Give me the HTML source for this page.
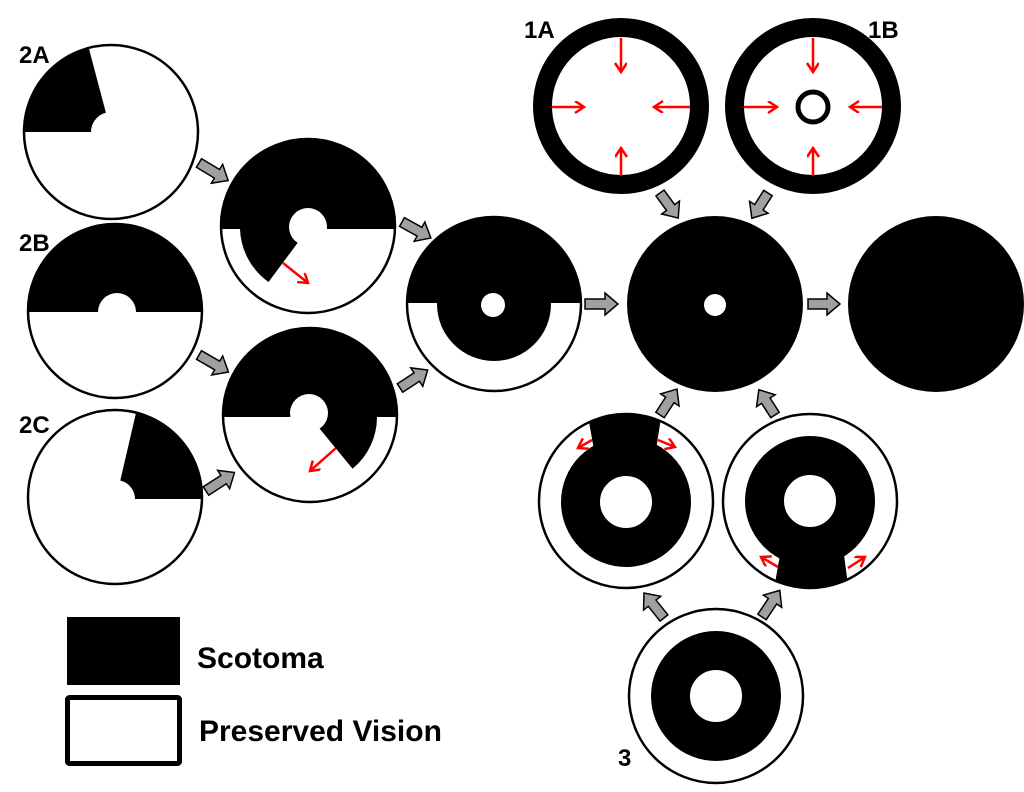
<!DOCTYPE html>
<html><head><meta charset="utf-8"><style>
html,body{margin:0;padding:0;background:#fff;}
svg{display:block;}
text{font-family:"Liberation Sans",sans-serif;font-weight:bold;fill:#000;}
</style></head><body>
<svg width="1024" height="792" viewBox="0 0 1024 792" xmlns="http://www.w3.org/2000/svg">
<defs>
<marker id="rh" markerUnits="userSpaceOnUse" markerWidth="14" markerHeight="14" refX="10" refY="6" orient="auto">
<path d="M1,0 L10,6 L1,12" fill="none" stroke="#ff0000" stroke-width="2.5"/>
</marker>
<clipPath id="c3l"><circle cx="626" cy="501" r="87"/></clipPath>
<clipPath id="c3r"><circle cx="810" cy="501" r="87"/></clipPath>
<clipPath id="c2a"><circle cx="111" cy="132" r="87"/></clipPath>
<clipPath id="c2b"><circle cx="115" cy="311" r="87"/></clipPath>
<clipPath id="c2c"><circle cx="115" cy="497" r="87"/></clipPath>
<clipPath id="cas"><circle cx="308" cy="226" r="87"/></clipPath>
<clipPath id="ccs"><circle cx="310" cy="415" r="87"/></clipPath>
<clipPath id="c3d"><circle cx="494" cy="304" r="87"/></clipPath>
</defs>

<!-- 2A -->
<path clip-path="url(#c2a)" d="M111,132 L10,132 L10,30 L84,30 Z" fill="#000"/>
<circle cx="111" cy="132" r="20" fill="#fff"/>
<circle cx="111" cy="132" r="87" fill="none" stroke="#000" stroke-width="2.5"/>
<!-- 2B -->
<rect clip-path="url(#c2b)" x="20" y="215" width="190" height="97" fill="#000"/>
<circle cx="117" cy="312" r="19" fill="#fff"/>
<circle cx="115" cy="311" r="87" fill="none" stroke="#000" stroke-width="2.5"/>
<!-- 2C -->
<path clip-path="url(#c2c)" d="M116,499 L220,499 L220,400 L139,400 Z" fill="#000"/>
<circle cx="116" cy="499" r="19" fill="#fff"/>
<circle cx="115" cy="497" r="87" fill="none" stroke="#000" stroke-width="2.5"/>

<!-- 2A step -->
<rect clip-path="url(#cas)" x="215" y="130" width="190" height="99" fill="#000"/>
<path d="M308,229 L240,229 A68,68 0 0 0 268.5,282 Z" fill="#000"/>
<circle cx="308" cy="227" r="19" fill="#fff"/>
<circle cx="308" cy="226" r="87" fill="none" stroke="#000" stroke-width="2.5"/>
<line x1="283" y1="263" x2="308" y2="283" stroke="#ff0000" stroke-width="2.5" marker-end="url(#rh)"/>

<!-- 2C step -->
<rect clip-path="url(#ccs)" x="215" y="320" width="190" height="97" fill="#000"/>
<path d="M310,417 L377,417 A67,67 0 0 1 352.6,468.7 Z" fill="#000"/>
<circle cx="309" cy="413" r="19" fill="#fff"/>
<circle cx="310" cy="415" r="87" fill="none" stroke="#000" stroke-width="2.5"/>
<line x1="336" y1="448" x2="310" y2="471" stroke="#ff0000" stroke-width="2.5" marker-end="url(#rh)"/>

<!-- 3rd -->
<rect clip-path="url(#c3d)" x="400" y="210" width="190" height="93" fill="#000"/>
<circle cx="494" cy="304" r="57" fill="#000"/>
<circle cx="493" cy="305" r="12" fill="#fff"/>
<circle cx="494" cy="304" r="87" fill="none" stroke="#000" stroke-width="2.5"/>

<!-- big -->
<circle cx="715" cy="304" r="88" fill="#000"/>
<circle cx="715" cy="305" r="11" fill="#fff"/>
<circle cx="936" cy="304" r="88" fill="#000"/>

<!-- 1A 1B -->
<circle cx="621" cy="106" r="78.5" fill="none" stroke="#000" stroke-width="19"/>
<circle cx="813" cy="106" r="78.5" fill="none" stroke="#000" stroke-width="19"/>
<circle cx="813" cy="107" r="15" fill="none" stroke="#000" stroke-width="5"/>
<g stroke="#ff0000" stroke-width="2.5" marker-end="url(#rh)">
<line x1="621" y1="38" x2="621" y2="72"/>
<line x1="552" y1="107" x2="584" y2="107"/>
<line x1="690" y1="107" x2="654" y2="107"/>
<line x1="621" y1="176" x2="621" y2="148"/>
<line x1="813" y1="38" x2="813" y2="72"/>
<line x1="744" y1="107" x2="777" y2="107"/>
<line x1="882" y1="107" x2="850" y2="107"/>
<line x1="813" y1="176" x2="813" y2="148"/>
</g>

<!-- group 3 -->
<g clip-path="url(#c3l)">
<circle cx="626" cy="502" r="45.5" fill="none" stroke="#000" stroke-width="39"/>
<polygon points="586,405 663,405 656,450 594,450" fill="#000"/>
</g>
<circle cx="626" cy="501" r="87" fill="none" stroke="#000" stroke-width="2.5"/>
<line x1="592" y1="440" x2="578" y2="448" stroke="#ff0000" stroke-width="2.5" marker-end="url(#rh)"/>
<line x1="658" y1="440" x2="675" y2="447" stroke="#ff0000" stroke-width="2.5" marker-end="url(#rh)"/>

<g clip-path="url(#c3r)">
<circle cx="810" cy="501" r="45.5" fill="none" stroke="#000" stroke-width="39"/>
<polygon points="780,555 844,555 850,600 772,600" fill="#000"/>
</g>
<circle cx="810" cy="501" r="87" fill="none" stroke="#000" stroke-width="2.5"/>
<line x1="778" y1="567" x2="761" y2="557" stroke="#ff0000" stroke-width="2.5" marker-end="url(#rh)"/>
<line x1="848" y1="568" x2="865" y2="557" stroke="#ff0000" stroke-width="2.5" marker-end="url(#rh)"/>

<circle cx="716" cy="696" r="45.5" fill="none" stroke="#000" stroke-width="39"/>
<circle cx="716" cy="696" r="87" fill="none" stroke="#000" stroke-width="2.5"/>

<!-- gray arrows -->
<g fill="#a0a0a0" stroke="#000" stroke-width="1.5">
<polygon transform="translate(199,163) rotate(31)" points="0,-5 21,-5 21,-11 34,0 21,11 21,5 0,5"/>
<polygon transform="translate(402,222) rotate(29)" points="0,-5 20,-5 20,-11 33,0 20,11 20,5 0,5"/>
<polygon transform="translate(199,355) rotate(30)" points="0,-5 21,-5 21,-11 34,0 21,11 21,5 0,5"/>
<polygon transform="translate(400,388) rotate(-33)" points="0,-5 20,-5 20,-11 33,0 20,11 20,5 0,5"/>
<polygon transform="translate(206,491) rotate(-33)" points="0,-5 21,-5 21,-11 34,0 21,11 21,5 0,5"/>
<polygon transform="translate(585,304) rotate(0)" points="0,-5 20,-5 20,-11 33,0 20,11 20,5 0,5"/>
<polygon transform="translate(808,304) rotate(0)" points="0,-5 19,-5 19,-11 32,0 19,11 19,5 0,5"/>
<polygon transform="translate(660,193) rotate(54)" points="0,-5 18,-5 18,-11 31,0 18,11 18,5 0,5"/>
<polygon transform="translate(768,193) rotate(122.6)" points="0,-5 17,-5 17,-11 30,0 17,11 17,5 0,5"/>
<polygon transform="translate(660,415) rotate(-56.8)" points="0,-5 18,-5 18,-11 31,0 18,11 18,5 0,5"/>
<polygon transform="translate(775,415) rotate(-122.6)" points="0,-5 17,-5 17,-11 30,0 17,11 17,5 0,5"/>
<polygon transform="translate(664,618) rotate(-128.7)" points="0,-5 19,-5 19,-11 32,0 19,11 19,5 0,5"/>
<polygon transform="translate(762,617) rotate(-56.3)" points="0,-5 19,-5 19,-11 32,0 19,11 19,5 0,5"/>
</g>

<!-- labels -->
<text x="19" y="63" font-size="24">2A</text>
<text x="19" y="251" font-size="24">2B</text>
<text x="19" y="433" font-size="24">2C</text>
<text x="524" y="38" font-size="24">1A</text>
<text x="868" y="38" font-size="24">1B</text>
<text x="618" y="766" font-size="24">3</text>

<!-- legend -->
<rect x="67" y="617" width="113" height="68" fill="#000"/>
<rect x="67.5" y="697.5" width="112" height="66" fill="#fff" stroke="#000" stroke-width="5" rx="2"/>
<text x="197" y="668" font-size="30">Scotoma</text>
<text x="199" y="741" font-size="30">Preserved Vision</text>
</svg>
</body></html>
